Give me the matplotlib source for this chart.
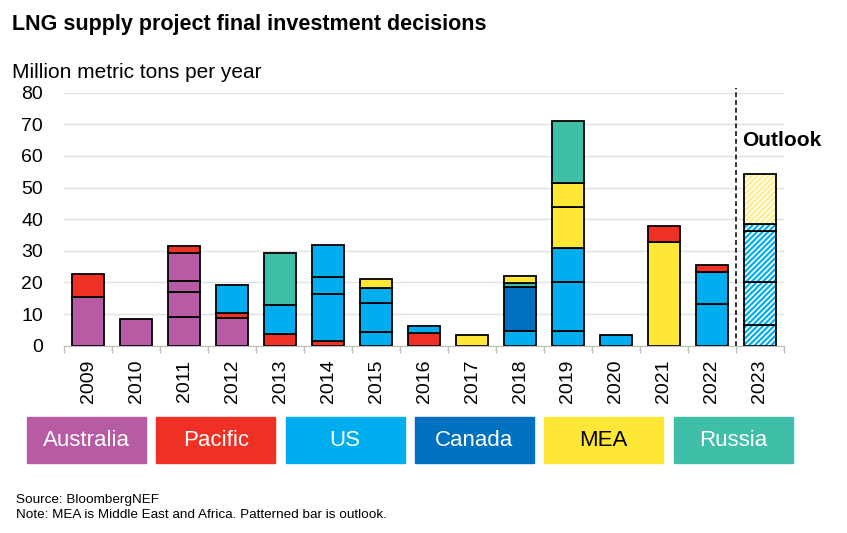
import numpy as np
import matplotlib
matplotlib.use("Agg")
import matplotlib.pyplot as plt
from matplotlib.patches import Rectangle

plt.rcParams['font.family'] = ['Liberation Sans', 'DejaVu Sans']
plt.rcParams['hatch.linewidth'] = 1.6

years = [str(y) for y in range(2009, 2024)]
regions = ["Australia", "Pacific", "US", "Canada", "MEA", "Russia"]
region_colors = ["#B85BA5", "#EE3124", "#00AEEF", "#0070C0", "#FFE835", "#40BFA8"]
hatch_colors = {"US": "#00AEEF", "MEA": "#FFEC8A"}
outlook_year = "2023"

# one entry per project, stacked bottom to top within each year
seg_year = ["2009", "2009",
            "2010",
            "2011", "2011", "2011", "2011", "2011",
            "2012", "2012", "2012",
            "2013", "2013", "2013",
            "2014", "2014", "2014", "2014",
            "2015", "2015", "2015", "2015",
            "2016", "2016",
            "2017",
            "2018", "2018", "2018", "2018",
            "2019", "2019", "2019", "2019", "2019", "2019",
            "2020",
            "2021", "2021",
            "2022", "2022", "2022",
            "2023", "2023", "2023", "2023", "2023"]
seg_region = ["Australia", "Pacific",
              "Australia",
              "Australia", "Australia", "Australia", "Australia", "Pacific",
              "Australia", "Pacific", "US",
              "Pacific", "US", "Russia",
              "Pacific", "US", "US", "US",
              "US", "US", "US", "MEA",
              "Pacific", "US",
              "MEA",
              "US", "Canada", "Russia", "MEA",
              "US", "US", "US", "MEA", "MEA", "Russia",
              "US",
              "MEA", "Pacific",
              "US", "US", "Pacific",
              "US", "US", "US", "US", "MEA"]
seg_value = [15.5, 7.2,
             8.5,
             9.0, 7.9, 3.5, 9.0, 2.0,
             8.9, 1.3, 9.0,
             3.6, 9.2, 16.5,
             1.6, 14.8, 5.3, 10.0,
             4.4, 9.2, 4.8, 2.6,
             3.9, 2.4,
             3.5,
             4.6, 14.1, 1.0, 2.3,
             4.5, 15.6, 10.8, 12.8, 7.6, 19.8,
             3.3,
             32.9, 5.0,
             13.3, 9.9, 2.2,
             6.6, 13.5, 16.3, 2.0, 16.0]

fig = plt.figure(figsize=(8.47, 5.33), dpi=100)
ax = fig.add_axes([0.0756, 0.3514, 0.85, 0.4747])

width = 0.667
bottoms = {y: 0.0 for y in years}
for yr, reg, val in zip(seg_year, seg_region, seg_value):
    x = years.index(yr)
    b = bottoms[yr]
    if yr == outlook_year:
        ax.bar(x, val, bottom=b, width=width, color="white",
               edgecolor=hatch_colors[reg], hatch="//////", linewidth=0)
        ax.bar(x, val, bottom=b, width=width, fill=False,
               edgecolor="black", linewidth=1.3)
    else:
        ax.bar(x, val, bottom=b, width=width,
               color=region_colors[regions.index(reg)],
               edgecolor="black", linewidth=1.3)
    bottoms[yr] = b + val

ax.set_xlim(-0.5, len(years) - 0.5)
ax.set_ylim(0, 80)
ax.set_yticks(range(0, 81, 10))
ax.tick_params(axis="y", length=0, pad=15, labelsize=14)
ax.set_xticks(range(len(years)))
ax.set_xticklabels(years, rotation=90, fontsize=14)
ax.tick_params(axis="x", which="major", length=0, pad=10)
ax.set_xticks(np.arange(-0.5, len(years), 1), minor=True)
ax.tick_params(axis="x", which="minor", length=5, color="#bfbfbf", width=1)

for s in ["top", "right", "left"]:
    ax.spines[s].set_visible(False)
ax.spines["bottom"].set_color("#bfbfbf")
ax.grid(axis="y", color="#e0e0e0", linewidth=1)
ax.set_axisbelow(True)

# outlook divider
ax.plot([13.5, 13.5], [0, 81.5], color="#333333", linestyle=(0, (2.5, 1.5)),
        linewidth=1.4, clip_on=False)
ax.text(13.62, 65, "Outlook", fontsize=15, fontweight="bold", ha="left", va="center")

fig.text(12 / 847, 1 - 30 / 533, "LNG supply project final investment decisions",
         fontsize=15.5, fontweight="bold", va="baseline")
fig.text(12 / 847, 1 - 78 / 533, "Million metric tons per year",
         fontsize=15, va="baseline")

# legend boxes
for i, (reg, col) in enumerate(zip(regions, region_colors)):
    x0 = (27 + i * 129.3) / 847
    w = 119 / 847
    fig.patches.append(Rectangle((x0, 70 / 533), w, 46 / 533,
                                 transform=fig.transFigure, color=col))
    fig.text(x0 + w / 2, 93 / 533, reg, ha="center", va="center", fontsize=16,
             color="black" if reg == "MEA" else "white")

fig.text(16 / 847, 1 - 503 / 533, "Source: BloombergNEF", fontsize=9.7, va="baseline")
fig.text(16 / 847, 1 - 518 / 533, "Note: MEA is Middle East and Africa. Patterned bar is outlook.",
         fontsize=9.7, va="baseline")

fig.savefig("out.png", dpi=100)
